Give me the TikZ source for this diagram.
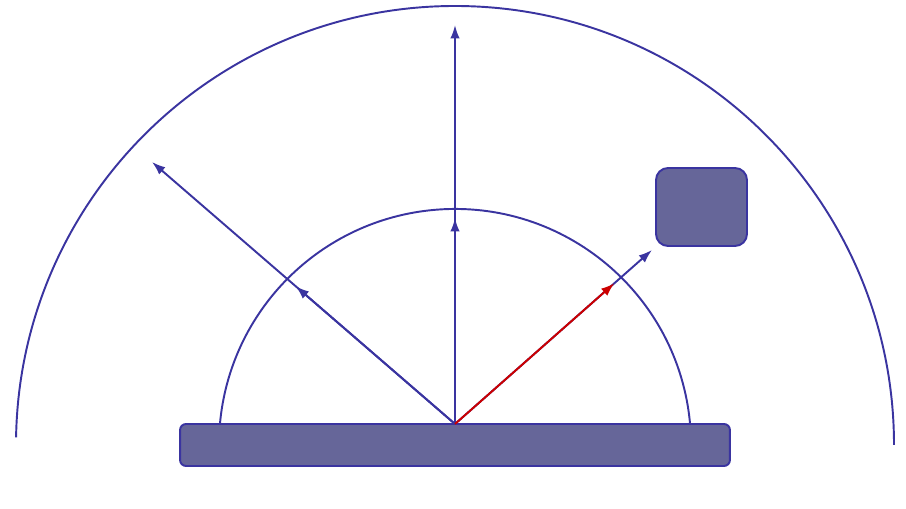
\documentclass[tikz,border=0pt]{standalone}
\usetikzlibrary{arrows.meta, positioning, calc}
\definecolor{rayblue}{RGB}{58,52,160}
\definecolor{slab}{RGB}{102,102,153}
\definecolor{rayred}{RGB}{204,0,0}

\begin{document}
\begin{tikzpicture}[
		x=0.02cm, y=0.02cm,
		surface/.style={rectangle, draw=rayblue, fill=slab, line width=1.1pt},
		ray/.style={-{Latex[length=0.27cm, width=0.19cm]}, draw=rayblue, line width=1.1pt},
		hit/.style={ray, draw=rayred},
		dome/.style={draw=rayblue, line width=1.1pt}
	]
		\useasboundingbox (0,0) rectangle (906,509);
		% surface and obstacle
		\node[surface, minimum width=11cm, minimum height=0.84cm, rounded corners=0.12cm] (bar) at (455,64) {};
		\node[surface, minimum width=1.82cm, minimum height=1.56cm, rounded corners=0.24cm] (obst) at (701.5,302) {};
		\coordinate (o) at (455,85);
		% hemispheres
		\draw[dome] (690.1,84.6) arc[start angle=5, end angle=175, radius=236];
		\draw[dome] (894,64) arc[start angle=0, end angle=179, radius=439];
		% ray ends
		\coordinate (up) at (455,484);
		\coordinate (upin) at (455,291);
		\coordinate (left) at (152,347);
		\coordinate (leftin) at ($(o)!0.526!(left)$);
		\coordinate (right) at (652,259);
		\coordinate (rightin) at ($(o)!0.809!(right)$);
		% rays
		\draw[ray] (o) -- (up);
		\draw[ray] (o) -- (upin);
		\draw[ray] (o) -- (left);
		\draw[ray] (o) -- (leftin);
		\draw[ray] (o) -- (right);
		\draw[hit] (o) -- (rightin);
\end{tikzpicture}
\end{document}
